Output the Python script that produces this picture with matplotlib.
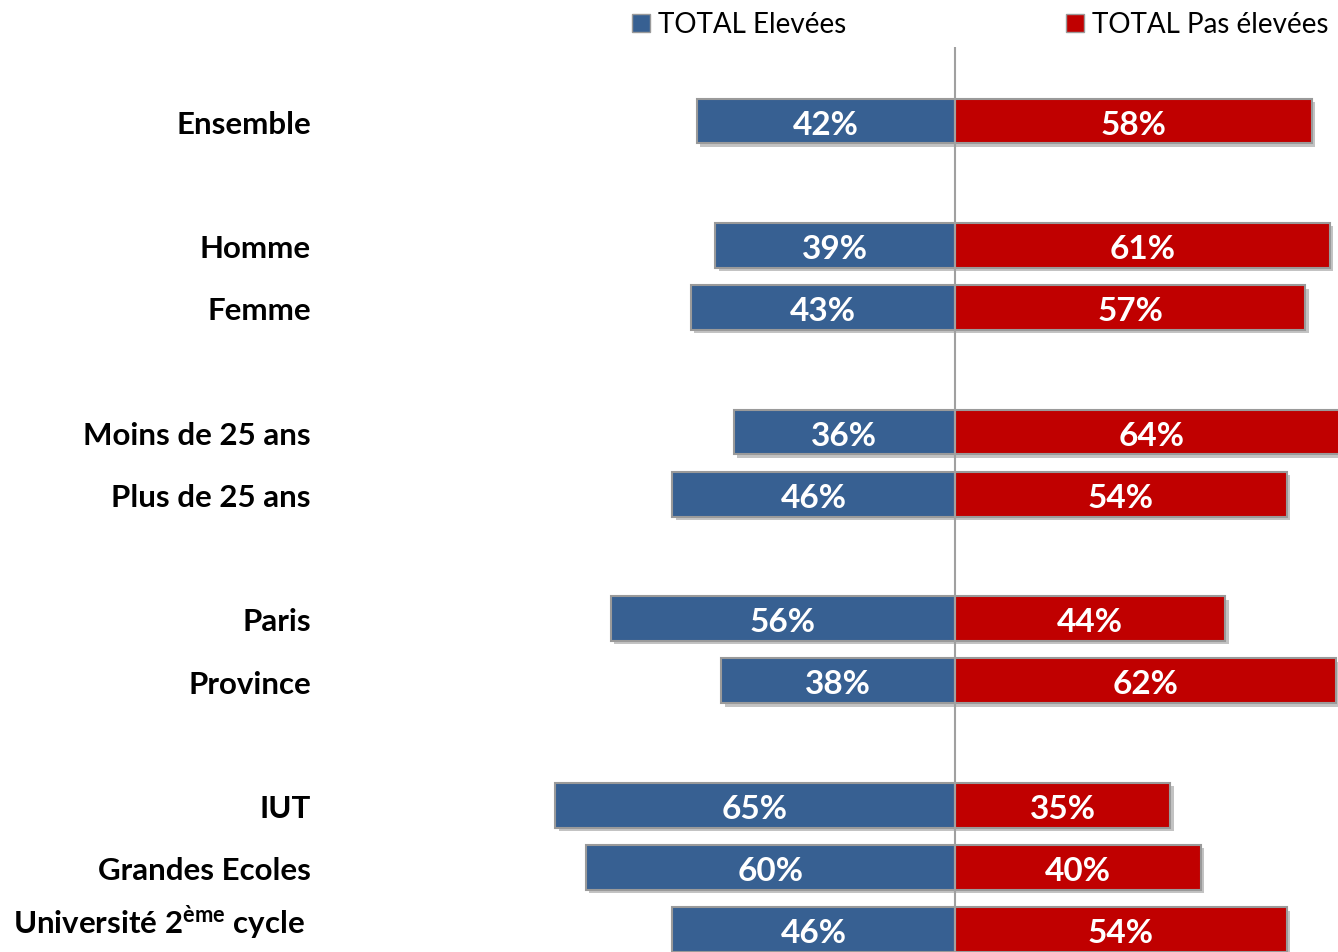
import matplotlib
matplotlib.use("Agg")
import matplotlib.pyplot as plt
import matplotlib.patheffects as pe
from matplotlib.patches import Rectangle

# donnees
categories = ["Ensemble", "Homme", "Femme", "Moins de 25 ans", "Plus de 25 ans",
              "Paris", "Province", "IUT", "Grandes Ecoles",
              "Université 2$^{\\mathrm{ème}}$ cycle"]
positions = [0, 2, 3, 5, 6, 8, 9, 11, 12, 13]
elevees = [42, 39, 43, 36, 46, 56, 38, 65, 60, 46]
pas_elevees = [58, 61, 57, 64, 54, 44, 62, 35, 40, 54]
legend_labels = ["TOTAL Elevées", "TOTAL Pas élevées"]

BLUE = "#376092"
RED = "#C00000"
EDGE = "#9a9a9a"
FONT = "Lato"

plt.rcParams["font.family"] = [FONT, "DejaVu Sans"]
plt.rcParams["mathtext.fontset"] = "custom"
plt.rcParams["mathtext.rm"] = FONT + ":bold"

fig = plt.figure(figsize=(13.38, 9.53), dpi=100)
ax = fig.add_axes([0.25, 0.0, 0.75, 1 - 48 / 953])

shadow = [pe.SimplePatchShadow(offset=(2.5, -2.5), shadow_rgbFace="#888888", alpha=0.5), pe.Normal()]

ax.barh(positions, [-v for v in elevees], height=0.72, color=BLUE,
        edgecolor=EDGE, linewidth=1.5, path_effects=shadow, zorder=2)
ax.barh(positions, pas_elevees, height=0.72, color=RED,
        edgecolor=EDGE, linewidth=1.5, path_effects=shadow, zorder=2)

for y, a, b in zip(positions, elevees, pas_elevees):
    ax.text(-a / 2, y + 0.05, f"{a}%", color="white", fontsize=24, fontweight="bold",
            ha="center", va="center", zorder=4)
    ax.text(b / 2, y + 0.05, f"{b}%", color="white", fontsize=24, fontweight="bold",
            ha="center", va="center", zorder=4)

ax.axvline(0, color="#a0a0a0", linewidth=1.5, zorder=3)

# libelles des lignes
for i, (y, lab) in enumerate(zip(positions, categories)):
    last = i == len(categories) - 1
    ax.annotate(lab, xy=(0, y), xycoords=("axes fraction", "data"),
                xytext=(-21.5 if last else -17, 5 if last else -2), textcoords="offset points",
                ha="right", va="center", fontsize=22.5, fontweight="bold", annotation_clip=False)

ax.set_xlim(-100.9, 62.3)
ax.set_ylim(13.36, -1.19)
ax.set_yticks([])
ax.set_xticks([])
for s in ax.spines.values():
    s.set_visible(False)

# legende
fig.patches.append(Rectangle((632 / 1338, 1 - 33 / 953), 18 / 1338, 18 / 953,
                             transform=fig.transFigure, facecolor=BLUE, edgecolor=EDGE, linewidth=1))
fig.text(658 / 1338, 1 - 25 / 953, legend_labels[0], fontsize=20, va="center", ha="left")
fig.patches.append(Rectangle((1066 / 1338, 1 - 33 / 953), 18 / 1338, 18 / 953,
                             transform=fig.transFigure, facecolor=RED, edgecolor=EDGE, linewidth=1))
fig.text(1092 / 1338, 1 - 25 / 953, legend_labels[1], fontsize=20, va="center", ha="left")

fig.savefig("out.png", dpi=100)
